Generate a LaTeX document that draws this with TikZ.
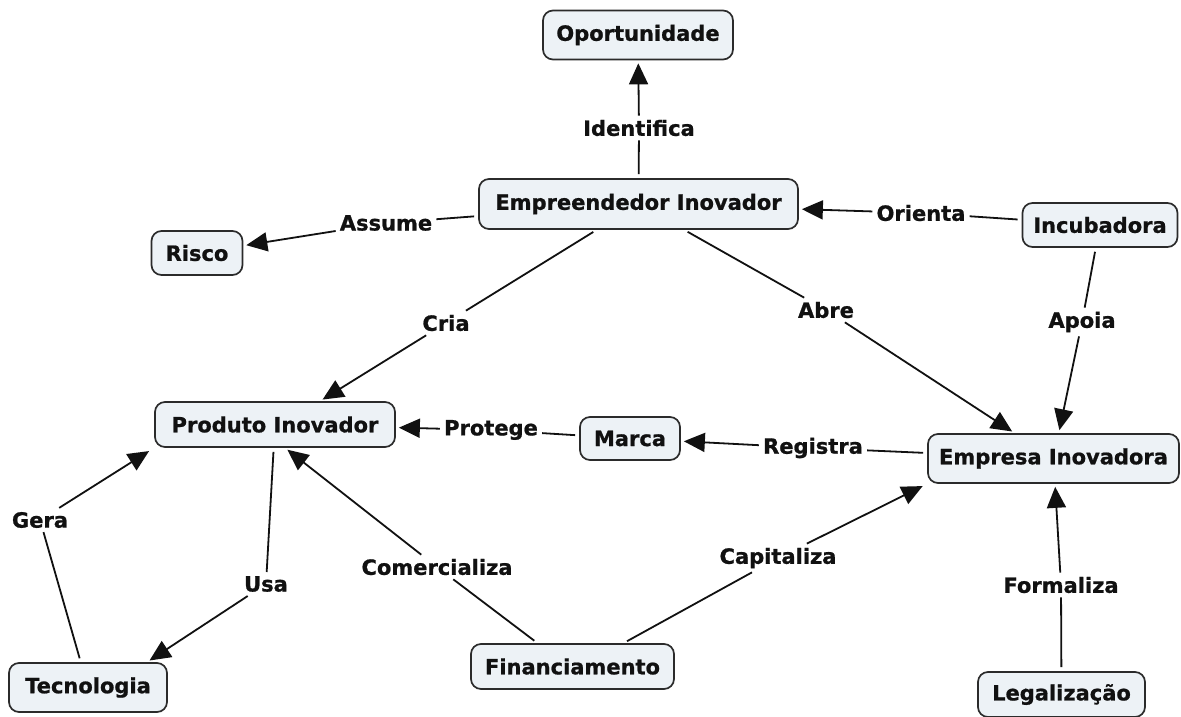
\documentclass[tikz,border=0pt]{standalone}
\usepackage{fontspec}
\setmainfont{DejaVu Sans}
\newfontfamily\cmapfont{DejaVu Sans}[BoldFeatures={FakeBold=0.9}]
\usetikzlibrary{arrows.meta,calc}
\definecolor{boxfill}{HTML}{EDF2F6}
\definecolor{boxline}{HTML}{2B2B2B}
\definecolor{ink}{HTML}{111111}
\begin{document}
\begin{tikzpicture}[x=1pt,y=-1pt,
  concept/.style={draw=boxline, line width=1.7pt, fill=boxfill,
    rounded corners=10pt, inner sep=0pt, text=ink,
    font=\cmapfont\fontsize{21}{25}\selectfont\bfseries},
  linkword/.style={inner sep=4pt, text=ink,
    font=\cmapfont\fontsize{21}{25}\selectfont\bfseries},
  link/.style={draw=ink, line width=1.8pt, shorten <=4pt},
  linkarrow/.style={draw=ink, line width=1.8pt,
    -{Triangle[length=21pt,width=19pt]}, shorten >=3pt},
]
\useasboundingbox (0,0) rectangle (1181,717);
\fill[white] (0,0) rectangle (1181,717);

% concepts
\node[concept, minimum width=190pt, minimum height=49pt] (opo)  at (638,35)    {Oportunidade};
\node[concept, minimum width=319pt, minimum height=50pt] (emp)  at (638.5,204) {Empreendedor Inovador};
\node[concept, minimum width=91pt,  minimum height=44pt] (risco) at (197,253)  {Risco};
\node[concept, minimum width=155pt, minimum height=44pt] (inc)  at (1100,225)  {Incubadora};
\node[concept, minimum width=240pt, minimum height=45pt] (prod) at (275,424.5) {Produto Inovador};
\node[concept, minimum width=100pt, minimum height=43pt] (marca) at (630,438.5) {Marca};
\node[concept, minimum width=251pt, minimum height=49pt] (empr) at (1053.5,458.5) {Empresa Inovadora};
\node[concept, minimum width=158pt, minimum height=49pt] (tec)  at (88,687.5)  {Tecnologia};
\node[concept, minimum width=203pt, minimum height=45pt] (fin)  at (572.5,666.5) {Financiamento};
\node[concept, minimum width=167pt, minimum height=45pt] (leg)  at (1061.5,694.5) {Legalização};

% linking phrases
\node[linkword] (identifica) at (639,128) {Identifica};
\node[linkword] (assume)     at (386,223) {Assume};
\node[linkword] (orienta)    at (921,213) {Orienta};
\node[linkword] (cria)       at (446,323) {Cria};
\node[linkword] (abre)       at (826,310) {Abre};
\node[linkword] (apoia)      at (1082,322) {Apoia};
\node[linkword] (protege)    at (491,430) {Protege};
\node[linkword] (registra)   at (813,448) {Registra};
\node[linkword] (gera)       at (40,520)  {Gera};
\node[linkword] (usa)        at (266,584) {Usa};
\node[linkword] (comerc)     at (437,567) {Comercializa};
\node[linkword] (capital)    at (778,558) {Capitaliza};
\node[linkword] (formaliza)  at (1061,585) {Formaliza};

% propositions
\draw[link] (emp) -- (identifica);
\draw[linkarrow] (identifica) -- (opo);

\draw[link] (emp) -- (assume);
\draw[linkarrow] (assume) -- (risco);

\draw[link] (inc) -- (orienta);
\draw[linkarrow] (orienta) -- (emp);

\draw[link] (emp) -- (cria);
\draw[linkarrow] (cria) -- ($(prod.north)+(45,0)$);

\draw[link] (emp) -- (abre);
\draw[linkarrow] (abre) -- (empr);

\draw[link] (inc) -- (apoia);
\draw[linkarrow] (apoia) -- (empr);

\draw[link] (marca) -- (protege);
\draw[linkarrow] (protege) -- (prod);

\draw[link] (empr) -- (registra);
\draw[linkarrow] (registra) -- (marca);

\draw[link] (tec) -- (gera);
\draw[linkarrow, shorten >=6pt] (gera) -- (prod.south west);

\draw[link] (prod) -- (usa);
\draw[linkarrow] (usa) -- ($(tec.north)+(59,0)$);

\draw[link] ($(fin.north)+(-35,0)$) -- (comerc);
\draw[linkarrow] (comerc) -- ($(prod.south)+(10,0)$);

\draw[link] ($(fin.north)+(51,0)$) -- (capital);
\draw[linkarrow, shorten >=5pt] (capital) -- (empr.south west);

\draw[link] (leg) -- (formaliza);
\draw[linkarrow] (formaliza) -- (empr);
\end{tikzpicture}
\end{document}
